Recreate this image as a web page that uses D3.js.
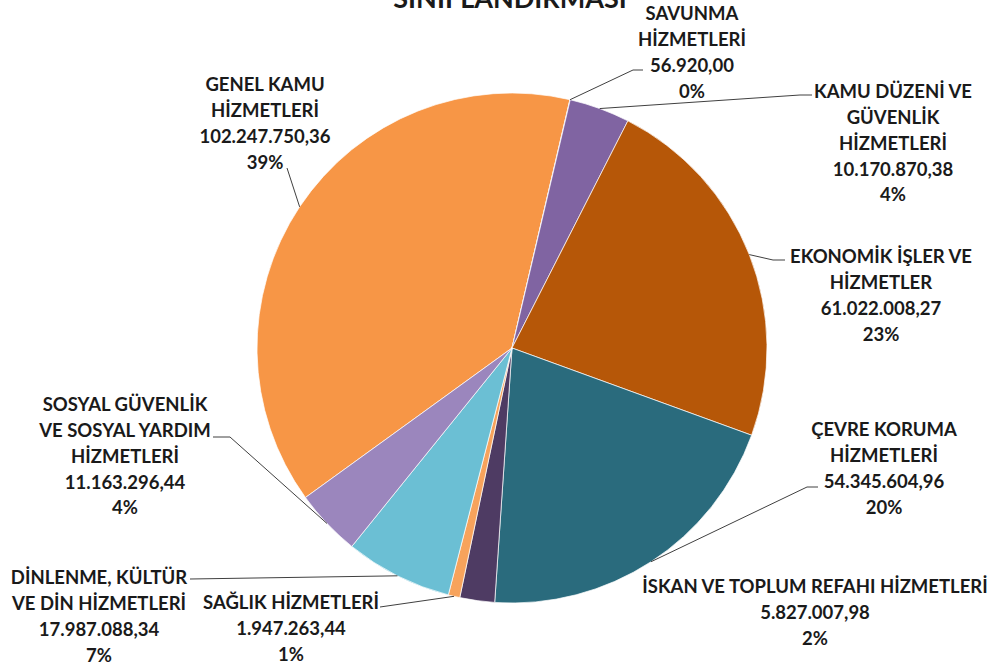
<!DOCTYPE html>
<html>
<head>
    <meta charset="utf-8">
    <title>Fonksiyonel Sınıflandırma</title>
    <style>
        body {
            margin: 0;
            background: #fff;
        }
        .slice {
            stroke: #fff;
            stroke-width: 0.7;
        }
        .label {
            font-family: Lato, "Open Sans", sans-serif;
            font-weight: bold;
            font-size: 18.5px;
            fill: #1a1a1a;
        }
        .leader {
            fill: none;
            stroke: #404040;
            stroke-width: 1;
        }
        .title {
            font-family: Lato, "Open Sans", sans-serif;
            font-weight: bold;
            font-size: 27px;
            fill: #1a1a1a;
        }
    </style>
</head>
<body>
    <div id="chart"></div>

    <script src="https://cdn.jsdelivr.net/npm/d3@7"></script>
    <script>
        // veriler
        var categories = [
            ["GENEL KAMU", "HİZMETLERİ"],
            ["SAVUNMA", "HİZMETLERİ"],
            ["KAMU DÜZENİ VE", "GÜVENLİK", "HİZMETLERİ"],
            ["EKONOMİK İŞLER VE", "HİZMETLER"],
            ["ÇEVRE KORUMA", "HİZMETLERİ"],
            ["İSKAN VE TOPLUM REFAHI HİZMETLERİ"],
            ["SAĞLIK HİZMETLERİ"],
            ["DİNLENME, KÜLTÜR", "VE DİN HİZMETLERİ"],
            ["SOSYAL GÜVENLİK", "VE SOSYAL YARDIM", "HİZMETLERİ"]
        ];
        var values = [
            102247750.36, 56920.00, 10170870.38, 61022008.27, 54345604.96,
            5827007.98, 1947263.44, 17987088.34, 11163296.44
        ];
        var percents = ["39%", "0%", "4%", "23%", "20%", "2%", "1%", "7%", "4%"];
        var colors = [
            "#f79646", "#8064a2", "#8064a2", "#b65708", "#2a6b7d",
            "#4e3b63", "#f7a35c", "#6bbfd4", "#9b86bd"
        ];

        // etiket yerleşimi (merkez x, ilk satır y) ve çizgi noktaları
        var labelPos = [
            [265, 85], [692, 14], [893, 92], [881, 257], [884, 430],
            [815, 587], [291, 603], [99, 578], [125, 405]
        ];
        var leaderPts = [
            [[287, 168]],
            [[633, 70], [643, 70]],
            [[800, 95], [812, 95]],
            [[773, 260], [785, 260]],
            [[807, 487], [818, 487]],
            null,
            [[380, 607]],
            [[190, 579]],
            [[230, 437], [213, 437]]
        ];

        var width = 994, height = 668;
        var cx = 512, cy = 348, radius = 255;
        var lineH = 25.7;

        var trFormat = d3.formatLocale({ decimal: ",", thousands: ".", grouping: [3], currency: ["", ""] })
            .format(",.2f");

        var svg = d3.select("#chart")
            .append("svg")
            .attr("width", width)
            .attr("height", height);

        svg.append("text")
            .attr("class", "title")
            .attr("x", 510)
            .attr("y", 8)
            .attr("text-anchor", "middle")
            .text("SINIFLANDIRMASI");

        var startDeg = -125.9;
        var pie = d3.pie()
            .sort(null)
            .startAngle(startDeg * Math.PI / 180)
            .endAngle((startDeg + 360) * Math.PI / 180);

        var arcs = pie(values);

        var arc = d3.arc().innerRadius(0).outerRadius(radius);
        var edge = d3.arc().innerRadius(radius).outerRadius(radius);

        var g = svg.append("g")
            .attr("transform", "translate(" + cx + "," + cy + ")");

        g.selectAll(".slice")
            .data(arcs)
            .enter().append("path")
            .attr("class", "slice")
            .attr("d", arc)
            .attr("fill", function (d, i) { return colors[i]; });

        // çizgiler
        svg.selectAll(".leader")
            .data(arcs.filter(function (d, i) { return leaderPts[i]; }))
            .enter().append("path")
            .attr("class", "leader")
            .attr("d", function (d) {
                var c = edge.centroid(d);
                var pts = [[c[0] + cx, c[1] + cy]].concat(leaderPts[d.index]);
                return d3.line()(pts);
            });

        // etiketler
        var labels = svg.selectAll(".label")
            .data(arcs)
            .enter().append("text")
            .attr("class", "label")
            .attr("text-anchor", "middle")
            .attr("transform", function (d, i) {
                return "translate(" + labelPos[i][0] + "," + labelPos[i][1] + ")";
            });

        labels.each(function (d, i) {
            var lines = categories[i].concat([trFormat(values[i]), percents[i]]);
            d3.select(this).selectAll("tspan")
                .data(lines)
                .enter().append("tspan")
                .attr("x", 0)
                .attr("y", function (t, j) { return j * lineH; })
                .attr("dy", "0.35em")
                .text(function (t) { return t; });
        });
    </script>
</body>
</html>
